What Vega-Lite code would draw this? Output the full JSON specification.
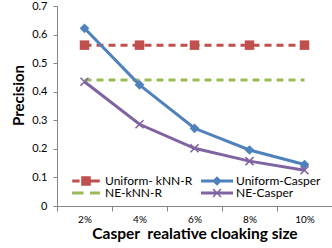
{
  "$schema": "https://vega.github.io/schema/vega-lite/v6.json",
  "autosize": {"type": "none"},
  "padding": {"left": 57, "top": 6, "right": 0, "bottom": 42},
  "width": 275,
  "height": 200,
  "config": {
    "view": {"stroke": null},
    "font": "Lato",
    "axis": {"domainColor": "#868686", "tickColor": "#868686", "labelColor": "#000000", "titleColor": "#000000", "grid": false, "labelFont": "Lato", "titleFont": "Lato"},
    "legend": {"labelFont": "Lato"}
  },
  "data": {"values": [
    {"size": "2%", "series": "Uniform- kNN-R", "precision": 0.563},
    {"size": "4%", "series": "Uniform- kNN-R", "precision": 0.563},
    {"size": "6%", "series": "Uniform- kNN-R", "precision": 0.563},
    {"size": "8%", "series": "Uniform- kNN-R", "precision": 0.563},
    {"size": "10%", "series": "Uniform- kNN-R", "precision": 0.563},
    {"size": "2%", "series": "NE-kNN-R", "precision": 0.441},
    {"size": "4%", "series": "NE-kNN-R", "precision": 0.441},
    {"size": "6%", "series": "NE-kNN-R", "precision": 0.441},
    {"size": "8%", "series": "NE-kNN-R", "precision": 0.441},
    {"size": "10%", "series": "NE-kNN-R", "precision": 0.441},
    {"size": "2%", "series": "Uniform-Casper", "precision": 0.622},
    {"size": "4%", "series": "Uniform-Casper", "precision": 0.424},
    {"size": "6%", "series": "Uniform-Casper", "precision": 0.272},
    {"size": "8%", "series": "Uniform-Casper", "precision": 0.196},
    {"size": "10%", "series": "Uniform-Casper", "precision": 0.145},
    {"size": "2%", "series": "NE-Casper", "precision": 0.435},
    {"size": "4%", "series": "NE-Casper", "precision": 0.286},
    {"size": "6%", "series": "NE-Casper", "precision": 0.202},
    {"size": "8%", "series": "NE-Casper", "precision": 0.157},
    {"size": "10%", "series": "NE-Casper", "precision": 0.125}
  ]},
  "encoding": {
    "x": {
      "field": "size", "type": "ordinal", "sort": ["2%", "4%", "6%", "8%", "10%"],
      "scale": {"type": "band", "paddingInner": 0, "paddingOuter": 0},
      "axis": {"title": "Casper \u00a0realative cloaking size", "labelAngle": 0, "tickBand": "extent", "tickSize": 5, "labelPadding": 3, "labelFontSize": 10, "titleFontSize": 15.5, "titleFontWeight": "bold", "titlePadding": 2, "domainWidth": 1}
    },
    "y": {
      "field": "precision", "type": "quantitative",
      "scale": {"domain": [0, 0.7], "nice": false, "zero": true},
      "axis": {"title": "Precision", "values": [0, 0.1, 0.2, 0.3, 0.4, 0.5, 0.6, 0.7], "format": "~g", "tickSize": 4, "labelPadding": 6, "labelFontSize": 11, "titleFontSize": 15, "titleFontWeight": "bold", "titleX": -34, "titleY": 89, "titleBaseline": "alphabetic"}
    },
    "color": {"field": "series", "type": "nominal",
      "scale": {"domain": ["Uniform- kNN-R", "NE-kNN-R", "Uniform-Casper", "NE-Casper"], "range": ["#C0504D", "#9BBB59", "#4F81BD", "#8064A2"]},
      "legend": {
        "title": null, "orient": "none", "legendX": 23, "legendY": 169, "columns": 2,
        "symbolSize": 64, "labelOffset": 13, "labelFontSize": 12, "labelColor": "#000000",
        "columnPadding": 8, "rowPadding": 0, "padding": 0,
        "encode": {"symbols": {"update": {"fill": {"signal": "scale('color', datum.value)"}, "stroke": {"value": "transparent"}, "strokeWidth": {"value": 0}, "opacity": {"value": 1}}}}
      }
    }
  },
  "layer": [
    {
      "transform": [{"filter": "datum.series === 'Uniform- kNN-R' || datum.series === 'NE-kNN-R'"}],
      "mark": {"type": "line", "strokeWidth": 3, "strokeDash": [7, 5]},
      "encoding": {"detail": {"field": "series"}}
    },
    {
      "transform": [{"filter": "datum.series === 'Uniform-Casper' || datum.series === 'NE-Casper'"}],
      "mark": {"type": "line", "strokeWidth": 3},
      "encoding": {"detail": {"field": "series"}}
    },
    {
      "transform": [{"filter": "datum.series === 'Uniform- kNN-R'"}],
      "mark": {"type": "point", "shape": "square", "filled": true, "size": 90, "opacity": 1}
    },
    {
      "transform": [{"filter": "datum.series === 'Uniform-Casper'"}],
      "mark": {"type": "point", "shape": "diamond", "filled": true, "size": 95, "opacity": 1}
    },
    {
      "transform": [{"filter": "datum.series === 'NE-Casper'"}],
      "mark": {"type": "point", "shape": "M-0.86,-1.14L1.14,0.86L0.86,1.14L-1.14,-0.86Z M-0.86,1.14L-1.14,0.86L0.86,-1.14L1.14,-0.86Z", "filled": true, "size": 64, "opacity": 1}
    },
    {
      "mark": {"type": "point", "filled": true, "opacity": 0},
      "encoding": {
        "shape": {"field": "series", "type": "nominal",
          "scale": {"domain": ["Uniform- kNN-R", "NE-kNN-R", "Uniform-Casper", "NE-Casper"],
            "range": [
              "M-3.45,-0.4H-1.6V0.4H-3.45Z M-1.2,-1.2H1.2V1.2H-1.2Z M1.2,-0.4H3.45V0.4H1.2Z",
              "M-3.5,-0.4H-0.6V0.4H-3.5Z M1,-0.4H3.5V0.4H1Z",
              "M-4,-0.35H4V0.35H-4Z M0,-1.2L1.2,0L0,1.2L-1.2,0Z",
              "M-4,-0.35H4V0.35H-4Z M-0.86,-1.14L1.14,0.86L0.86,1.14L-1.14,-0.86Z M-0.86,1.14L-1.14,0.86L0.86,-1.14L1.14,-0.86Z"
            ]},
          "legend": {
            "title": null, "orient": "none", "legendX": 23, "legendY": 169, "columns": 2,
            "symbolSize": 64, "labelOffset": 13, "labelFontSize": 12, "labelColor": "#000000",
            "columnPadding": 8, "rowPadding": 0, "padding": 0
          }
        }
      }
    }
  ]
}
